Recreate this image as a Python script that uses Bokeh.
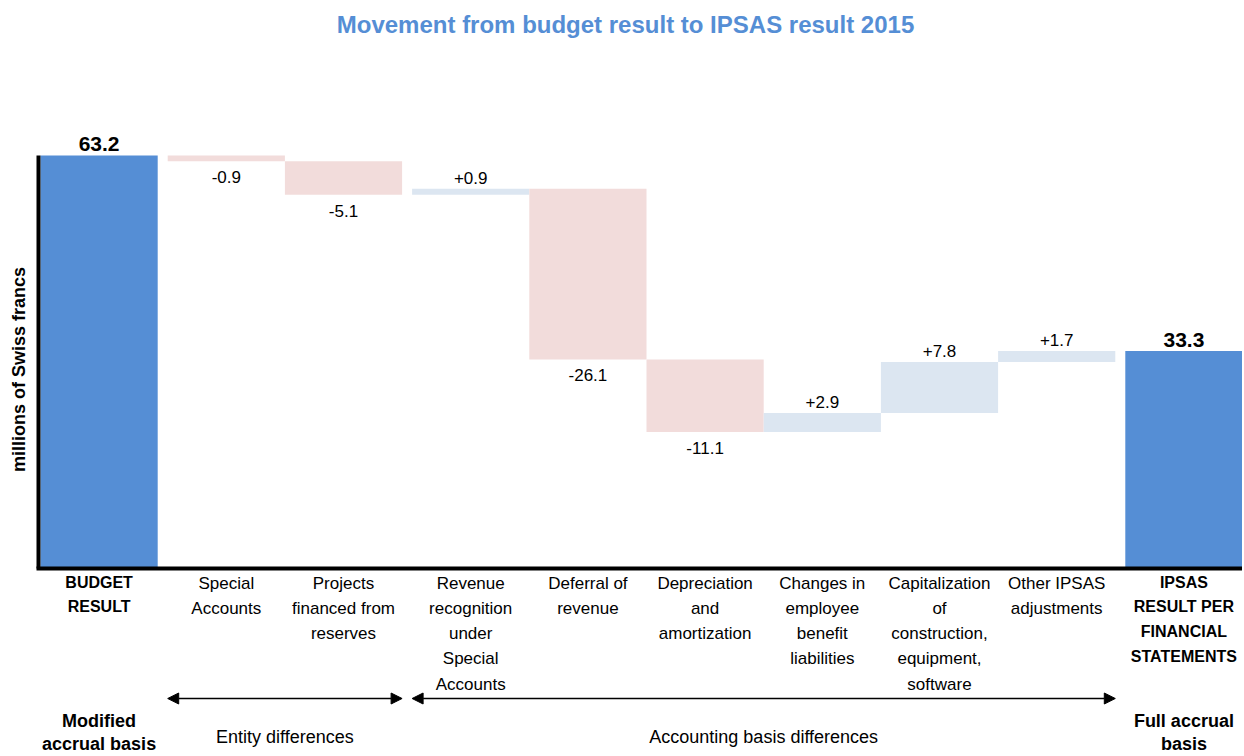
import numpy as np
from bokeh.plotting import figure
from bokeh.models import Range1d, Arrow, NormalHead
from bokeh.core.properties import value
from bokeh.embed import file_html
from bokeh.resources import INLINE

# ---------------- data ----------------
categories = [
    "BUDGET\nRESULT",
    "Special\nAccounts",
    "Projects\nfinanced from\nreserves",
    "Revenue\nrecognition\nunder\nSpecial\nAccounts",
    "Deferral of\nrevenue",
    "Depreciation\nand\namortization",
    "Changes in\nemployee\nbenefit\nliabilities",
    "Capitalization\nof\nconstruction,\nequipment,\nsoftware",
    "Other IPSAS\nadjustments",
    "IPSAS\nRESULT PER\nFINANCIAL\nSTATEMENTS",
]
values = [63.2, -0.9, -5.1, 0.9, -26.1, -11.1, 2.9, 7.8, 1.7, 33.3]
kinds = ["total", "delta", "delta", "delta", "delta", "delta", "delta", "delta", "delta", "total"]
groups = [
    "Modified\naccrual basis",
    "Entity differences", "Entity differences",
    "Accounting basis differences", "Accounting basis differences",
    "Accounting basis differences", "Accounting basis differences",
    "Accounting basis differences", "Accounting basis differences",
    "Full accrual\nbasis",
]
title_text = "Movement from budget result to IPSAS result 2015"
y_label = "millions of Swiss francs"

# ---------------- layout (pixels) ----------------
W, H = 1242, 754
SLOT = 117.2      # px per bar slot
GAP = 10.0        # px between groups
LEFT = 40.0       # px from frame left to first bar
ZERO = 568.0      # px from top of frame to y = 0
K = 6.535         # px per million
FONT = value("Liberation Sans")
BLUE = "#558ED5"
NEG = "#F2DCDB"
POS = "#DCE6F1"

x_start = -0.5 - LEFT / SLOT
x_end = x_start + W / SLOT
y_end = ZERO / K
y_start = -(H - ZERO) / K


def fx(px):
    return x_start + px / SLOT


def fy(py):
    return (ZERO - py) / K


# waterfall geometry from the data
n = len(values)
gid = [0]
for i in range(1, n):
    gid.append(gid[-1] + (groups[i] != groups[i - 1]))
xs = np.arange(n) + np.array(gid) * GAP / SLOT

bottoms, tops, colors = [], [], []
running = 0.0
for v, k in zip(values, kinds):
    if k == "total":
        bottoms.append(0.0)
        tops.append(v)
        colors.append(BLUE)
        running = v
    else:
        bottoms.append(min(running, running + v))
        tops.append(max(running, running + v))
        colors.append(POS if v > 0 else NEG)
        running += v

p = figure(width=W, height=H, x_range=Range1d(x_start, x_end), y_range=Range1d(y_start, y_end),
           output_backend="svg", toolbar_location=None, x_axis_location=None,
           y_axis_location=None, min_border=0, title_location=None)
p.grid.grid_line_color = None
p.outline_line_color = None
p.background_fill_color = "white"

p.vbar(x=xs, width=1.0, bottom=bottoms, top=tops, fill_color=colors, line_color=None)

# axis lines
ax_x = xs[0] - 0.5 - 2 / SLOT
p.segment(x0=[ax_x], y0=[0], x1=[ax_x], y1=[max(tops)], line_color="black", line_width=4)
p.segment(x0=[ax_x - 2 / SLOT], y0=[0], x1=[x_end], y1=[0], line_color="black", line_width=4)

# value labels
tot = [i for i in range(n) if kinds[i] == "total"]
pos = [i for i in range(n) if kinds[i] == "delta" and values[i] > 0]
neg = [i for i in range(n) if kinds[i] == "delta" and values[i] < 0]
p.text(x=[xs[i] for i in tot], y=[tops[i] + 11 / K for i in tot],
       text=[f"{values[i]:.1f}" for i in tot], text_font=FONT, text_font_size="21px",
       text_font_style="bold", text_align="center", text_baseline="middle", text_color="black")
p.text(x=[xs[i] for i in pos], y=[tops[i] + 11 / K for i in pos],
       text=[f"{values[i]:+.1f}" for i in pos], text_font=FONT, text_font_size="17px",
       text_align="center", text_baseline="middle", text_color="black")
p.text(x=[xs[i] for i in neg], y=[bottoms[i] - 16 / K for i in neg],
       text=[f"{values[i]:+.1f}" for i in neg], text_font=FONT, text_font_size="17px",
       text_align="center", text_baseline="middle", text_color="black")

# category labels
p.text(x=[xs[i] for i in range(n) if kinds[i] != "total"], y=-5 / K,
       text=[categories[i] for i in range(n) if kinds[i] != "total"], text_font=FONT,
       text_font_size="17px", text_line_height=1.33, text_align="center",
       text_baseline="top", text_color="black")
p.text(x=[xs[i] for i in tot], y=-5 / K, text=[categories[i] for i in tot], text_font=FONT,
       text_font_size="16px", text_font_style="bold", text_line_height=1.47,
       text_align="center", text_baseline="top", text_color="black")

# group annotations
ugroups = []
for g in groups:
    if g not in ugroups:
        ugroups.append(g)
for g in ugroups:
    idx = [i for i in range(n) if groups[i] == g]
    cx = float(np.mean(xs[idx]))
    if all(kinds[i] == "total" for i in idx):
        p.text(x=[cx], y=[fy(732)], text=[g], text_font=FONT, text_font_size="18px",
               text_font_style="bold", text_line_height=1.15, text_align="center",
               text_baseline="middle", text_color="black")
    else:
        left, right = xs[idx[0]] - 0.5, xs[idx[-1]] + 0.5
        p.add_layout(Arrow(x_start=left, y_start=fy(698), x_end=right, y_end=fy(698),
                           line_width=1.5, line_color="black",
                           start=NormalHead(size=11, fill_color="black", line_color="black"),
                           end=NormalHead(size=11, fill_color="black", line_color="black")))
        p.text(x=[cx], y=[fy(736)], text=[g], text_font=FONT, text_font_size="18px",
               text_align="center", text_baseline="middle", text_color="black")

# title and y label
p.text(x=[fx(625)], y=[fy(24)], text=[title_text], text_font=FONT, text_font_size="24px",
       text_font_style="bold", text_align="center", text_baseline="middle", text_color=BLUE)
p.text(x=[fx(18)], y=[fy(369)], text=[y_label], angle=np.pi / 2, text_font=FONT,
       text_font_size="18px", text_font_style="bold", text_align="center",
       text_baseline="middle", text_color="black")

open("out.html", "w").write(file_html(p, INLINE))
